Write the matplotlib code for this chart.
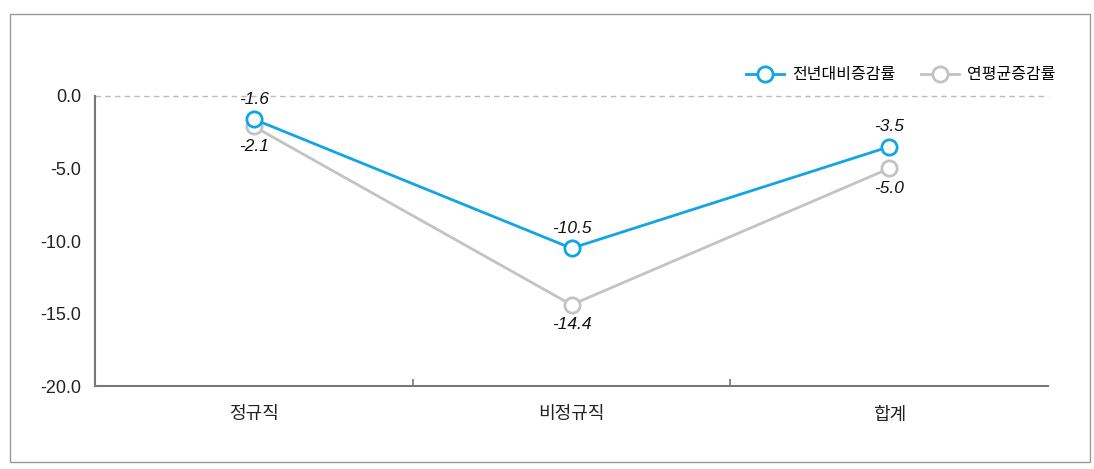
import matplotlib
matplotlib.use("Agg")
import matplotlib.pyplot as plt
from matplotlib.patches import Rectangle

categories = ["정규직", "비정규직", "합계"]
yoy = [-1.6, -10.5, -3.5]
avg = [-2.1, -14.4, -5.0]
series_names = ["전년대비증감률", "연평균증감률"]
yticks = [0, -5, -10, -15, -20]

plt.rcParams['font.family'] = ['Noto Sans CJK KR', 'DejaVu Sans']

W, H = 1094, 469
fig = plt.figure(figsize=(W/100, H/100), dpi=100)
fig.patches.append(Rectangle((10/W, 1-462/H), 1080/W, 448/H, transform=fig.transFigure,
                             fill=False, edgecolor='#999999', linewidth=1.0))

ax = fig.add_axes([95/W, 1-386/H, 953/W, 290/H])
blue = '#12a5e3'
gray = '#c3c3c3'
x = list(range(len(categories)))

ax.plot(x, avg, color=gray, linewidth=2, marker='o', markersize=11,
        markerfacecolor='white', markeredgecolor=gray, markeredgewidth=2,
        label=series_names[1], zorder=3)
ax.plot(x, yoy, color=blue, linewidth=2, marker='o', markersize=11,
        markerfacecolor='white', markeredgecolor=blue, markeredgewidth=2,
        label=series_names[0], zorder=4)

for xi, v in zip(x, yoy):
    ax.annotate(f"{v:.1f}", (xi, v), xytext=(0, 9), textcoords='offset points',
                ha='center', va='bottom', fontsize=12.5, style='italic',
                family=['Liberation Sans'], color='#111111')
for xi, v in zip(x, avg):
    ax.annotate(f"{v:.1f}", (xi, v), xytext=(0, -9), textcoords='offset points',
                ha='center', va='top', fontsize=12.5, style='italic',
                family=['Liberation Sans'], color='#111111')

ax.set_xlim(-0.5, len(categories) - 0.5)
ax.set_ylim(-20, 0)
ax.set_yticks(yticks)
ax.set_yticklabels([f"{v:.1f}" for v in yticks], family=['Liberation Sans'], fontsize=13, color='#222222')
ax.set_xticks(x)
ax.set_xticklabels(categories, fontsize=13, color='#222222')
ax.tick_params(axis='x', length=0, pad=14)
ax.tick_params(axis='y', length=0, pad=10)
ax.set_xticks([0.5, 1.5], minor=True)
ax.tick_params(axis='x', which='minor', length=5, direction='in', color='#777777', width=1.2)

for s in ['top', 'right']:
    ax.spines[s].set_visible(False)
for s in ['left', 'bottom']:
    ax.spines[s].set_color('#777777')
    ax.spines[s].set_linewidth(1.5)

ax.axhline(0, color='#bbbbbb', linestyle=(0, (4, 3)), linewidth=1, zorder=1, clip_on=False)

handles, labels = ax.get_legend_handles_labels()
leg = fig.legend(handles[::-1], labels[::-1], loc='center right',
                 bbox_to_anchor=(1070/W, 1-75/H), ncol=2, frameon=False,
                 fontsize=11.5, handlelength=2.4, columnspacing=1.6, handletextpad=0.5)

fig.savefig("out.png", dpi=100, facecolor='white')
